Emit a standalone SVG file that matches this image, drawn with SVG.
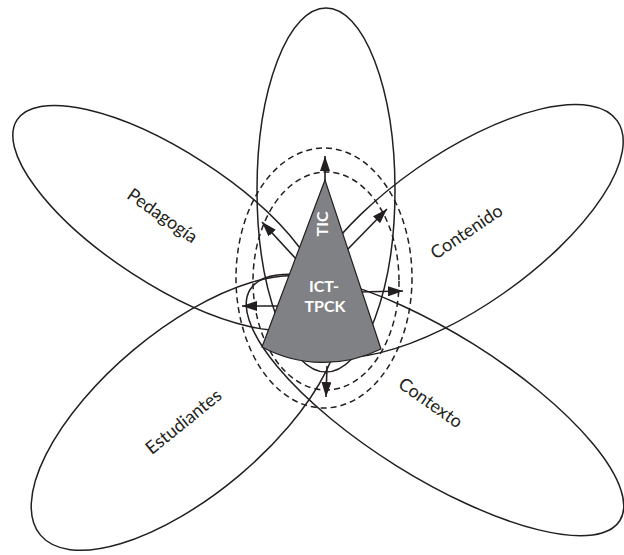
<svg xmlns="http://www.w3.org/2000/svg" width="624" height="555" viewBox="0 0 624 555">
<defs>
<style>
.petal{fill:none;stroke:#231f20;stroke-width:1.5}
.dash{fill:none;stroke:#231f20;stroke-width:1.5;stroke-dasharray:6 4}
.arr{fill:none;stroke:#231f20;stroke-width:1.6;marker-end:url(#ah)}
.lbl{font-family:Lato,"Open Sans","Liberation Sans",sans-serif;font-size:18px;fill:#231f20;text-anchor:middle;dominant-baseline:central}
.in{font-family:Lato,"Open Sans","Liberation Sans",sans-serif;font-size:16px;font-weight:bold;fill:#ffffff;text-anchor:middle}
</style>
<marker id="ah" markerUnits="userSpaceOnUse" markerWidth="16" markerHeight="10" refX="15" refY="5" orient="auto">
<path d="M0,0 L15,5 L0,10 Z" fill="#231f20"/>
</marker>
</defs>
<rect width="624" height="555" fill="#ffffff"/>
<g id="petal-tic"><ellipse class="petal" cx="326" cy="190" rx="69" ry="182"/></g>
<g id="petal-pedagogia"><ellipse class="petal" cx="0" cy="0" rx="180" ry="66" transform="translate(168,218) rotate(33)"/>
<text class="lbl" transform="translate(163,215) rotate(35)">Pedagogía</text></g>
<g id="petal-contenido"><ellipse class="petal" cx="0" cy="0" rx="192" ry="76" transform="translate(460,231) rotate(-35)"/>
<text class="lbl" transform="translate(466,231) rotate(-34)">Contenido</text></g>
<g id="petal-estudiantes"><ellipse class="petal" cx="0" cy="0" rx="190" ry="82" transform="translate(186,413) rotate(-40)"/>
<text class="lbl" transform="translate(183,421) rotate(-39)">Estudiantes</text></g>
<g id="petal-contexto"><ellipse class="petal" cx="0" cy="0" rx="218" ry="72" transform="translate(435,405) rotate(32)"/>
<text class="lbl" transform="translate(431,402) rotate(35)">Contexto</text></g>
<g id="dashed">
<ellipse class="dash" cx="324" cy="278" rx="88" ry="130"/>
<ellipse class="dash" cx="326" cy="281" rx="73" ry="109"/>
</g>
<g id="connectors">
<line class="arr" x1="325" y1="182" x2="325" y2="156"/>
<line class="arr" x1="297" y1="260" x2="262" y2="222"/>
<line class="arr" x1="347" y1="250" x2="387" y2="209"/>
<line class="arr" x1="358" y1="292" x2="403" y2="291"/>
<line class="arr" x1="277" y1="306" x2="242" y2="306"/>
<line class="arr" x1="327" y1="366" x2="326" y2="397"/>
</g>
<g id="cone">
<path d="M325,180 L262,347 A130,130 0 0 0 381,349 Z" fill="#808184" stroke="#231f20" stroke-width="1.2"/>
<text class="in" transform="translate(328,224) rotate(-90)">TIC</text>
<text class="in" x="324" y="292">ICT-</text>
<text class="in" x="325" y="312">TPCK</text>
</g>
</svg>
